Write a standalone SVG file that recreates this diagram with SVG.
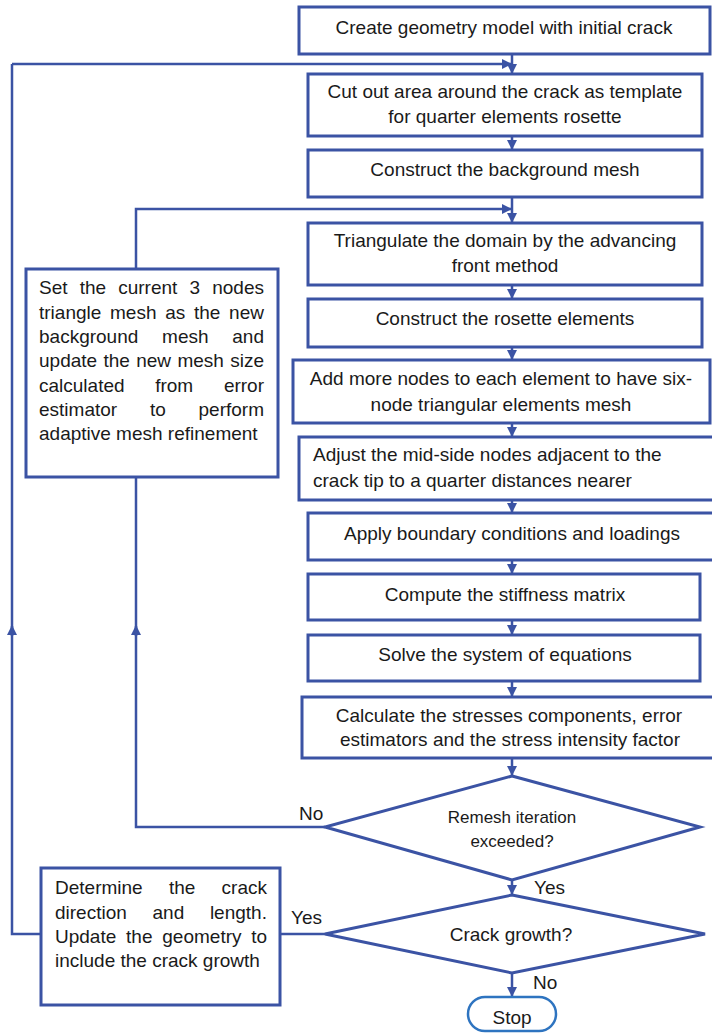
<svg xmlns="http://www.w3.org/2000/svg" width="712" height="1033" viewBox="0 0 712 1033">
<style>
.box{fill:#fff;stroke:#3B53A4;stroke-width:3}
.dia{fill:#fff;stroke:#3B53A4;stroke-width:3}
.ln{fill:none;stroke:#3B53A4;stroke-width:2.5}
.t{font-family:"Liberation Sans",Arial,sans-serif;font-size:19px;fill:#1a1a1a}
.c{text-anchor:middle}
.s{font-size:17px}
</style>
<defs>
<marker id="ah" viewBox="0 0 10 10" refX="9" refY="5" markerWidth="4" markerHeight="4" orient="auto" markerUnits="strokeWidth">
<path d="M0,0 L10,5 L0,10 z" fill="#3B53A4"/>
</marker>
</defs>
<rect width="712" height="1033" fill="#fff"/>
<g id="connectors">
<line class="ln" x1="512" y1="54" x2="512" y2="73" marker-end="url(#ah)"/>
<line class="ln" x1="12" y1="64" x2="511" y2="64" marker-end="url(#ah)"/>
<line class="ln" x1="512" y1="136" x2="512" y2="149" marker-end="url(#ah)"/>
<line class="ln" x1="512" y1="197" x2="512" y2="222" marker-end="url(#ah)"/>
<polyline class="ln" points="136,269 136,209 511,209" marker-end="url(#ah)"/>
<line class="ln" x1="512" y1="285" x2="512" y2="298" marker-end="url(#ah)"/>
<line class="ln" x1="512" y1="347" x2="512" y2="359" marker-end="url(#ah)"/>
<line class="ln" x1="512" y1="423" x2="512" y2="436" marker-end="url(#ah)"/>
<line class="ln" x1="512" y1="500" x2="512" y2="512" marker-end="url(#ah)"/>
<line class="ln" x1="512" y1="560" x2="512" y2="573" marker-end="url(#ah)"/>
<line class="ln" x1="512" y1="620" x2="512" y2="634" marker-end="url(#ah)"/>
<line class="ln" x1="512" y1="681" x2="512" y2="696" marker-end="url(#ah)"/>
<line class="ln" x1="512" y1="758" x2="512" y2="775" marker-end="url(#ah)"/>
<polyline class="ln" points="325,827 136,827 136,626" marker-end="url(#ah)"/>
<line class="ln" x1="136" y1="636" x2="136" y2="477"/>
<line class="ln" x1="512" y1="880" x2="512" y2="894" marker-end="url(#ah)"/>
<line class="ln" x1="325" y1="934" x2="280" y2="934"/>
<polyline class="ln" points="41,934 12,934 12,626" marker-end="url(#ah)"/>
<line class="ln" x1="12" y1="636" x2="12" y2="64"/>
<line class="ln" x1="512" y1="973" x2="512" y2="996" marker-end="url(#ah)"/>
</g>
<g id="n1"><rect class="box" x="299" y="7" width="411" height="47"/>
<text class="t c" x="504" y="34">Create geometry model with initial crack</text></g>
<g id="n2"><rect class="box" x="308" y="74" width="394" height="62"/>
<text class="t c" x="505" y="98">Cut out area around the crack as template</text>
<text class="t c" x="505" y="123">for quarter elements rosette</text></g>
<g id="n3"><rect class="box" x="308" y="150" width="394" height="47"/>
<text class="t c" x="505" y="176">Construct the background mesh</text></g>
<g id="n4"><rect class="box" x="308" y="223" width="394" height="62"/>
<text class="t c" x="505" y="247">Triangulate the domain by the advancing</text>
<text class="t c" x="505" y="272">front method</text></g>
<g id="n5"><rect class="box" x="308" y="299" width="394" height="48"/>
<text class="t c" x="505" y="325">Construct the rosette elements</text></g>
<g id="n6"><rect class="box" x="293" y="360" width="417" height="63"/>
<text class="t c" x="501" y="385">Add more nodes to each element to have six-</text>
<text class="t c" x="501" y="411">node triangular elements mesh</text></g>
<g id="n7"><rect class="box" x="299" y="437" width="418" height="63"/>
<text class="t" x="313" y="461">Adjust the mid-side nodes adjacent to the</text>
<text class="t" x="313" y="487">crack tip to a quarter distances nearer</text></g>
<g id="n8"><rect class="box" x="308" y="513" width="409" height="47"/>
<text class="t c" x="512" y="540">Apply boundary conditions and loadings</text></g>
<g id="n9"><rect class="box" x="308" y="574" width="392" height="46"/>
<text class="t c" x="505" y="601">Compute the stiffness matrix</text></g>
<g id="n10"><rect class="box" x="308" y="635" width="392" height="46"/>
<text class="t c" x="505" y="661">Solve the system of equations</text></g>
<g id="n11"><rect class="box" x="302" y="697" width="415" height="61"/>
<text class="t c" x="509" y="722">Calculate the stresses components, error</text>
<text class="t c" x="510" y="746">estimators and the stress intensity factor</text></g>
<g id="nA"><rect class="box" x="26" y="269" width="252" height="208"/>
<text class="t" y="294"><tspan x="39">Set</tspan><tspan x="79.7">the</tspan><tspan x="118.2">current</tspan><tspan x="189.5">3</tspan><tspan x="212.2">nodes</tspan></text>
<text class="t" y="319"><tspan x="39">triangle</tspan><tspan x="110">mesh</tspan><tspan x="165.2">as</tspan><tspan x="194">the</tspan><tspan x="229.1">new</tspan></text>
<text class="t" y="343"><tspan x="39">background</tspan><tspan x="162.1">mesh</tspan><tspan x="232.3">and</tspan></text>
<text class="t" y="367"><tspan x="39">update</tspan><tspan x="103.5">the</tspan><tspan x="136.2">new</tspan><tspan x="177.4">mesh</tspan><tspan x="230.2">size</tspan></text>
<text class="t" y="392"><tspan x="39">calculated</tspan><tspan x="155.2">from</tspan><tspan x="223.9">error</tspan></text>
<text class="t" y="416"><tspan x="39">estimator</tspan><tspan x="149.9">to</tspan><tspan x="198.5">perform</tspan></text>
<text class="t" x="39" y="440">adaptive mesh refinement</text></g>
<g id="nB"><rect class="box" x="41" y="868" width="239" height="137"/>
<text class="t" y="894"><tspan x="55">Determine</tspan><tspan x="168.9">the</tspan><tspan x="221.6">crack</tspan></text>
<text class="t" y="919"><tspan x="55">direction</tspan><tspan x="152.5">and</tspan><tspan x="209.9">length.</tspan></text>
<text class="t" y="943"><tspan x="55">Update</tspan><tspan x="126.1">the</tspan><tspan x="162.3">geometry</tspan><tspan x="251.3">to</tspan></text>
<text class="t" x="55" y="967">include the crack growth</text></g>
<g id="d1"><polygon class="dia" points="512,776 700,827 512,880 325,827"/>
<text class="t c s" x="512" y="823">Remesh iteration</text>
<text class="t c s" x="512" y="847">exceeded?</text></g>
<g id="d2"><polygon class="dia" points="512,895 705,934 512,973 325,934"/>
<text class="t c" x="511" y="941">Crack growth?</text></g>
<g id="stop"><rect x="468" y="997" width="88" height="34" rx="17" fill="#fff" stroke="#2E74C0" stroke-width="2.5"/>
<text class="t c" x="512" y="1024">Stop</text></g>
<g id="labels">
<text class="t" x="299" y="820">No</text>
<text class="t" x="534" y="894">Yes</text>
<text class="t" x="291" y="924">Yes</text>
<text class="t" x="533" y="989">No</text>
</g>
</svg>
